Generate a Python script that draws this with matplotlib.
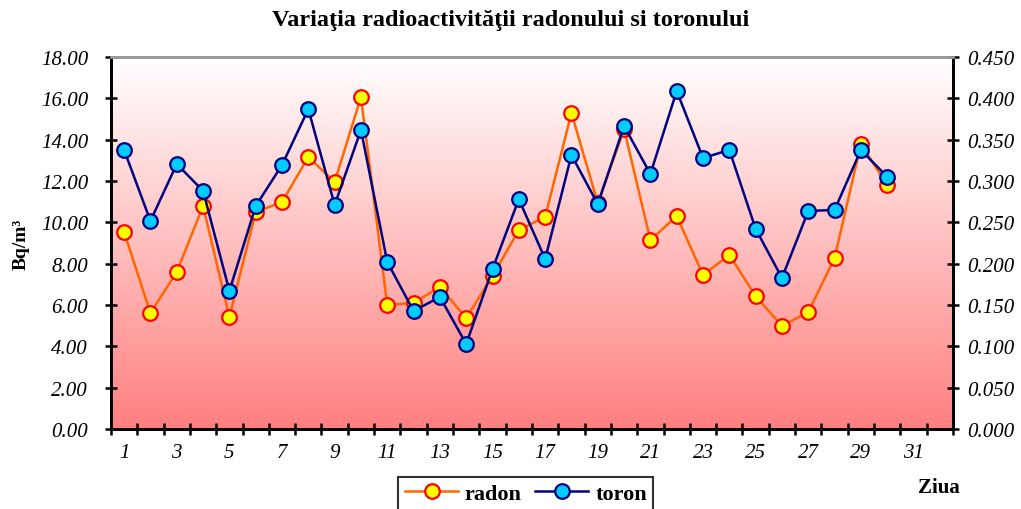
import matplotlib.pyplot as plt
import numpy as np

# zilele masurate si valorile
zile = np.arange(1, 31)
radon = [9.53, 5.61, 7.60, 10.79, 5.42, 10.50, 10.98, 13.16, 11.95, 16.06,
         6.00, 6.10, 6.87, 5.37, 7.40, 9.63, 10.26, 15.29, 10.93, 14.50,
         9.14, 10.30, 7.45, 8.42, 6.43, 4.98, 5.66, 8.27, 13.79, 11.80]
toron = [0.3375, 0.2516, 0.3206, 0.288, 0.167, 0.2697, 0.3193, 0.387, 0.271, 0.3617,
         0.202, 0.1427, 0.1597, 0.1028, 0.1935, 0.278, 0.2056, 0.3314, 0.272, 0.3665,
         0.3085, 0.4089, 0.3278, 0.3375, 0.242, 0.1827, 0.2637, 0.265, 0.3375, 0.305]
ticks_st = np.arange(0, 18.01, 2)
ticks_dr = np.arange(0, 0.4501, 0.05)
etichete_x = np.arange(1, 32, 2)

plt.rcParams['font.family'] = ['Liberation Serif', 'DejaVu Serif']

fig = plt.figure(figsize=(10.21, 5.1), dpi=100)
ax = fig.add_axes([0.1087, 0.1569, 0.8247, 0.7294])

# fundal in gradient (alb sus -> rosu deschis jos)
grad = np.linspace(0, 1, 256).reshape(-1, 1)
culori = np.zeros((256, 1, 3))
culori[..., 0] = 1.0
culori[..., 1] = 1.0 - 0.5 * grad
culori[..., 2] = 1.0 - 0.5 * grad
ax.imshow(culori, extent=[0.5, 32.5, 0, 18], aspect='auto', zorder=0, interpolation='bilinear')

l1, = ax.plot(zile, radon, color='#FF6600', lw=1.8, marker='o', ms=10.5,
              mfc='#FFFF00', mec='#FF0000', mew=1.6, zorder=3, label='radon')
ax.set_xlim(0.5, 32.5)
ax.set_ylim(0, 18)
ax.set_yticks(ticks_st)
ax.set_yticklabels(['%.2f' % v for v in ticks_st], fontsize=15, style='italic')
ax.set_ylabel('Bq/m³', fontsize=14, fontweight='bold', labelpad=8)

# x: liniute intre categorii, etichete la mijloc
ax.set_xticks(np.arange(0.5, 33, 1))
ax.set_xticklabels([])
ax.set_xticks(etichete_x, minor=True)
ax.set_xticklabels([str(v) for v in etichete_x], minor=True, fontsize=15, style='italic')
ax.tick_params(axis='x', which='major', direction='inout', length=9, width=1.8)
ax.tick_params(axis='x', which='minor', length=0, pad=10)
ax.tick_params(axis='y', direction='inout', length=9, width=1.8, pad=12)

ax2 = ax.twinx()
l2, = ax2.plot(zile, toron, color='#000080', lw=1.8, marker='o', ms=10.5,
               mfc='#00CCFF', mec='#000080', mew=1.6, zorder=4, label='toron')
ax2.set_ylim(0, 0.45)
ax2.set_yticks(ticks_dr)
ax2.set_yticklabels(['%.3f' % v for v in ticks_dr], fontsize=15, style='italic')
ax2.tick_params(axis='y', direction='inout', length=9, width=1.8, pad=6)

for a in (ax, ax2):
    for s in ('left', 'right', 'bottom'):
        a.spines[s].set_linewidth(2)
        a.spines[s].set_color('black')
    a.spines['top'].set_color('#999999')
    a.spines['top'].set_linewidth(2)

fig.text(0.5, 0.96, 'Variaţia radioactivităţii radonului si toronului',
         ha='center', va='center', fontsize=17.5, fontweight='bold')
fig.text(0.92, 0.043, 'Ziua', ha='center', va='center', fontsize=15, fontweight='bold')

leg = fig.legend(handles=[l1, l2], loc='center', bbox_to_anchor=(0.515, 0.03), ncol=2,
                 frameon=True, fancybox=False, edgecolor='black',
                 prop={'weight': 'bold', 'size': 16}, handlelength=2.4,
                 columnspacing=0.6, handletextpad=0.3, borderpad=0.3)
leg.get_frame().set_linewidth(1.5)

fig.savefig('out.png', dpi=100)
